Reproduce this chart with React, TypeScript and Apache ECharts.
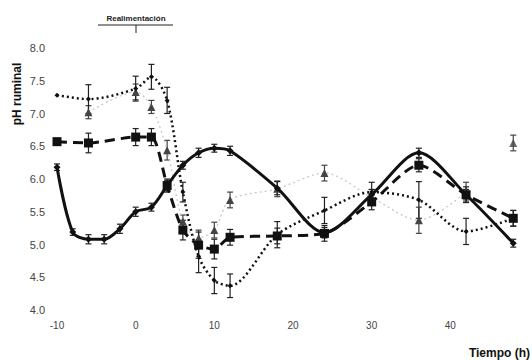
import React, { useEffect, useRef } from "react";
import * as echarts from "echarts";

// Time (h)
const hoursA = [-10, -8, -6, -4, -2, 0, 2, 4, 6, 8, 10, 12, 18, 24, 30, 36, 42, 48];
const valuesA = [6.18, 5.19, 5.08, 5.08, 5.24, 5.5, 5.57, 5.9, 6.21, 6.4, 6.47, 6.43, 5.86, 5.18, 5.76, 6.4, 5.76, 5.02];
const errA = [0.05, 0.05, 0.07, 0.07, 0.07, 0.07, 0.06, 0.08, 0.06, 0.07, 0.06, 0.07, 0.1, 0.08, 0.08, 0.07, 0.08, 0.06];

const hoursB = [-10, -6, 0, 2, 4, 6, 8, 10, 12, 18, 24, 30, 36, 42, 48];
const valuesB = [6.57, 6.55, 6.64, 6.64, 5.9, 5.22, 4.99, 4.93, 5.11, 5.13, 5.17, 5.65, 6.21, 5.76, 5.4];
const errB = [0, 0.15, 0.13, 0.13, 0.1, 0.15, 0.2, 0.15, 0.12, 0.12, 0.12, 0.12, 0.1, 0.12, 0.12];

const hoursC = [-10, -6, 0, 2, 4, 6, 8, 10, 12, 18, 24, 30, 36, 42, 48];
const valuesC = [7.28, 7.22, 7.38, 7.56, 7.2, 5.8, 4.82, 4.45, 4.37, 5.15, 5.52, 5.8, 5.68, 5.2, 5.4];
const errC = [0, 0.22, 0.19, 0.19, 0.2, 0.15, 0.25, 0.2, 0.18, 0.2, 0.2, 0.15, 0.28, 0.2, 0.12];

const hoursD = [-6, 0, 2, 4, 6, 8, 10, 12, 18, 24, 30, 36, 42, 48];
const valuesD = [7.02, 7.33, 7.1, 6.44, 5.35, 5.1, 5.22, 5.68, 5.85, 6.09, 5.72, 5.37, 5.8, 6.55];
const errD = [0.1, 0.12, 0.1, 0.15, 0.1, 0.12, 0.12, 0.12, 0.12, 0.12, 0.12, 0.2, 0.15, 0.12];

const xTicks = [-10, 0, 10, 20, 30, 40];

function pts(h: number[], v: number[]) {
  return h.map((x, i) => [x, v[i]]);
}
function errPts(h: number[], v: number[], e: number[]) {
  return h.map((x, i) => [x, v[i], e[i]]);
}

function errSeries(data: number[][], color: string) {
  return {
    type: "custom",
    silent: true,
    z: 1,
    data,
    encode: { x: 0, y: 1 },
    renderItem: (params: any, api: any) => {
      const x = api.value(0);
      const y = api.value(1);
      const e = api.value(2);
      if (!e) return { type: "group", children: [] };
      const top = api.coord([x, y + e]);
      const bot = api.coord([x, y - e]);
      const w = 3;
      const st = { stroke: color, lineWidth: 1.2 };
      return {
        type: "group",
        children: [
          { type: "line", shape: { x1: top[0], y1: top[1], x2: bot[0], y2: bot[1] }, style: st },
          { type: "line", shape: { x1: top[0] - w, y1: top[1], x2: top[0] + w, y2: top[1] }, style: st },
          { type: "line", shape: { x1: bot[0] - w, y1: bot[1], x2: bot[0] + w, y2: bot[1] }, style: st },
        ],
      };
    },
  };
}

export default function App() {
  const ref = useRef<HTMLDivElement>(null);
  useEffect(() => {
    const chart = echarts.init(ref.current!, null, { renderer: "svg" });
    const font = "'Liberation Sans', Arial, sans-serif";
    const dLine = pts(hoursD, valuesD);
    chart.setOption({
      animation: false,
      backgroundColor: "#fff",
      grid: { left: 57, right: 1, top: 48, bottom: 50 },
      xAxis: {
        type: "value",
        min: -10,
        max: 50,
        interval: 10,
        axisLine: { show: false },
        axisTick: { show: false },
        splitLine: { show: false },
        axisLabel: {
          margin: 10,
          fontSize: 10,
          color: "#444",
          fontFamily: font,
          formatter: (v: number) => (xTicks.indexOf(v) >= 0 ? String(v) : ""),
        },
      },
      yAxis: {
        type: "value",
        min: 4,
        max: 8,
        interval: 0.5,
        axisLine: { show: false },
        axisTick: { show: false },
        splitLine: { show: false },
        axisLabel: {
          margin: 12,
          fontSize: 11,
          color: "#444",
          fontFamily: font,
          formatter: (v: number) => v.toFixed(1),
        },
      },
      graphic: [
        {
          type: "text",
          x: 136,
          y: 18,
          style: {
            text: "Realimentación",
            fontSize: 8,
            fontWeight: "bold",
            fontFamily: font,
            fill: "#222",
            align: "center",
            verticalAlign: "middle",
          },
        },
        { type: "line", shape: { x1: 98, y1: 25, x2: 173, y2: 25 }, style: { stroke: "#222", lineWidth: 1 } },
        { type: "line", shape: { x1: 136, y1: 25, x2: 136, y2: 33 }, style: { stroke: "#222", lineWidth: 1 } },
        {
          type: "text",
          x: 17,
          y: 94,
          rotation: Math.PI / 2,
          style: {
            text: "pH ruminal",
            fontSize: 12,
            fontWeight: "bold",
            fontFamily: font,
            fill: "#111",
            align: "center",
            verticalAlign: "middle",
          },
        },
        {
          type: "text",
          x: 530,
          y: 353,
          style: {
            text: "Tiempo (h)",
            fontSize: 12,
            fontWeight: "bold",
            fontFamily: font,
            fill: "#111",
            align: "right",
            verticalAlign: "middle",
          },
        },
      ],
      series: [
        errSeries(errPts(hoursD, valuesD, errD), "#444"),
        errSeries(errPts(hoursC, valuesC, errC), "#222"),
        errSeries(errPts(hoursB, valuesB, errB), "#222"),
        errSeries(errPts(hoursA, valuesA, errA), "#222"),
        {
          type: "line",
          data: dLine.slice(0, dLine.length - 1),
          smooth: 0.3,
          symbol: "triangle",
          symbolSize: 8,
          itemStyle: { color: "#444" },
          lineStyle: { color: "#c8c8c8", width: 1.3, type: [2, 3] },
          z: 2,
        },
        {
          type: "scatter",
          data: dLine.slice(dLine.length - 1),
          symbol: "triangle",
          symbolSize: 8,
          itemStyle: { color: "#444" },
          z: 2,
        },
        {
          type: "line",
          data: pts(hoursC, valuesC),
          smooth: 0.3,
          symbol: "diamond",
          symbolSize: 5,
          itemStyle: { color: "#111" },
          lineStyle: { color: "#111", width: 2.5, type: [2, 3] },
          z: 3,
        },
        {
          type: "line",
          data: pts(hoursB, valuesB),
          smooth: 0.25,
          symbol: "rect",
          symbolSize: 9,
          itemStyle: { color: "#111" },
          lineStyle: { color: "#111", width: 3, type: [10, 6] },
          z: 4,
        },
        {
          type: "line",
          data: pts(hoursA, valuesA),
          smooth: 0.3,
          symbol: "diamond",
          symbolSize: 7,
          itemStyle: { color: "#111" },
          lineStyle: { color: "#111", width: 3 },
          z: 5,
        },
      ],
    });
    return () => chart.dispose();
  }, []);
  return (
    <div
      ref={ref}
      style={{ position: "fixed", left: 0, top: 0, width: 532, height: 360 }}
    />
  );
}
